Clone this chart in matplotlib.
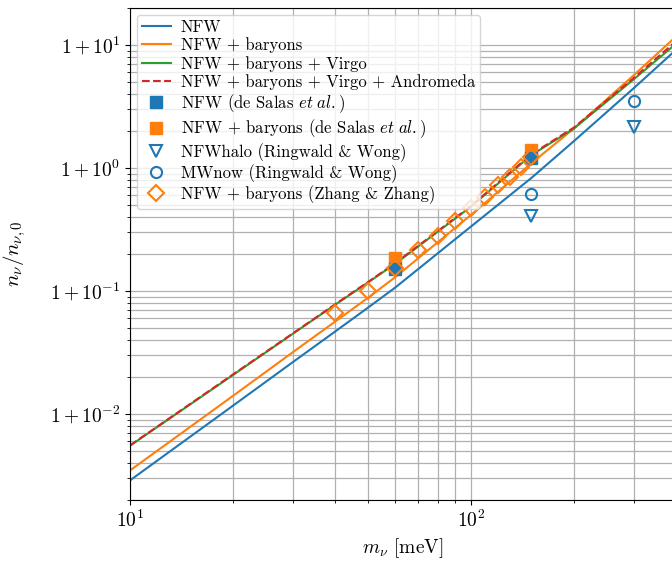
import numpy as np
import matplotlib
matplotlib.use("Agg")
import matplotlib.pyplot as plt
from matplotlib.ticker import FuncFormatter

plt.rcParams.update({
    "font.family": "serif",
    "font.serif": ["cmr10"],
    "mathtext.fontset": "cm",
    "axes.formatter.use_mathtext": True,
    "font.size": 14,
})

# ── Дані (оцінено з рисунка) ─────────────────────────────────────────────
m_line = [10, 20, 30, 40, 50, 60, 100, 150, 200, 300, 400]
nfw = [0.00289, 0.01165, 0.0264, 0.0470, 0.0737, 0.107, 0.335, 0.827, 1.65, 4.46, 9.2]
nfw_bar = [0.00348, 0.0140, 0.0318, 0.0566, 0.0887, 0.130, 0.416, 1.09, 2.09, 5.69, 11.8]
nfw_bar_virgo = [0.00553, 0.0207, 0.0449, 0.0776, 0.118, 0.167, 0.486, 1.27, 2.09, 5.27, 10.3]
nfw_bar_virgo_and = [0.00556, 0.0209, 0.0452, 0.0782, 0.119, 0.169, 0.492, 1.29, 2.13, 5.40, 10.8]

m_salas = [60, 150]
salas_nfw = [0.152, 1.20]
salas_bar = [0.186, 1.40]

m_rw = [150, 300]
rw_halo = [0.41, 2.16]
rw_now = [0.615, 3.49]

m_zz = [40, 50, 60, 70, 80, 90, 100, 110, 120, 130, 140, 150]
zz_bar = [0.0658, 0.0996, 0.154, 0.217, 0.278, 0.374, 0.472, 0.586, 0.728, 0.84, 1.02, 1.22]

# ── Побудова ─────────────────────────────────────────────────────────────
fig = plt.figure(figsize=(6.72, 5.61), dpi=100)
ax = fig.add_axes([0.1935, 0.1087, 0.813, 0.877])

ax.plot(m_line, nfw, color="C0", lw=1.5, label="NFW")
ax.plot(m_line, nfw_bar, color="C1", lw=1.5, label="NFW + baryons")
ax.plot(m_line, nfw_bar_virgo, color="C2", lw=1.5, label="NFW + baryons + Virgo")
ax.plot(m_line, nfw_bar_virgo_and, color="C3", lw=1.5, ls="--",
        label="NFW + baryons + Virgo + Andromeda")

ax.plot(m_salas, salas_bar, "s", color="C1", ms=8, ls="none",
        label=r"NFW + baryons (de Salas $\mathit{et\ al.}$)")
ax.plot(m_salas, salas_nfw, "s", color="C0", ms=8, ls="none",
        label=r"NFW (de Salas $\mathit{et\ al.}$)")
ax.plot(m_rw, rw_halo, "v", color="C0", mfc="none", mew=1.5, ms=8, ls="none",
        label="NFWhalo (Ringwald & Wong)")
ax.plot(m_rw, rw_now, "o", color="C0", mfc="none", mew=1.5, ms=8, ls="none",
        label="MWnow (Ringwald & Wong)")
ax.plot(m_zz, zz_bar, "D", color="C1", mfc="none", mew=1.5, ms=8, ls="none",
        label="NFW + baryons (Zhang & Zhang)")

ax.set_xscale("log")
ax.set_yscale("log")
ax.set_xlim(10, 400)
ax.set_ylim(0.002, 20)

ax.yaxis.set_major_formatter(FuncFormatter(lambda v, p: r"$1 + 10^{%d}$" % round(np.log10(v))))
ax.tick_params(which="major", labelsize=14)
ax.grid(True, which="both", color="#b0b0b0", lw=0.9)
ax.set_axisbelow(True)

ax.set_xlabel(r"$m_\nu$ [meV]", fontsize=14)
ax.set_ylabel(r"$n_\nu / n_{\nu,0}$", fontsize=15, labelpad=16)

handles, labels = ax.get_legend_handles_labels()
order = [0, 1, 2, 3, 5, 4, 6, 7, 8]
ax.legend([handles[i] for i in order], [labels[i] for i in order],
          loc="upper left", fontsize=12, framealpha=0.8,
          labelspacing=0.15, handlelength=1.75, handletextpad=0.6,
          borderpad=0.3, borderaxespad=0.4)

fig.savefig("out.png", dpi=100, facecolor="white")
